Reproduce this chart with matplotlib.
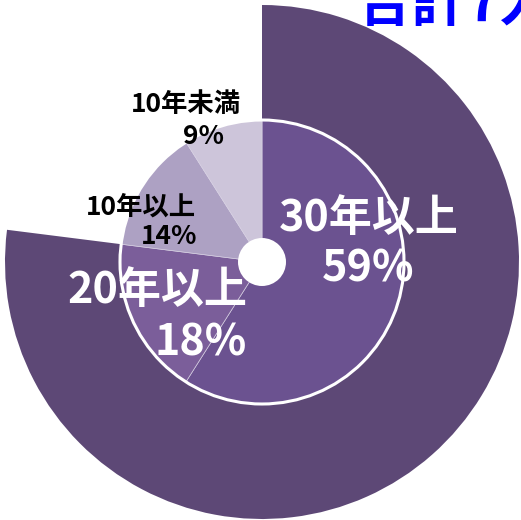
import matplotlib
matplotlib.use('Agg')
import matplotlib.pyplot as plt
from matplotlib.patches import Circle

plt.rcParams['font.family'] = ['Noto Sans CJK JP', 'DejaVu Sans']

# data
labels = ['30年以上', '20年以上', '10年以上', '10年未満']
shares = [59, 18, 14, 9]
colors = ['#6b5290', '#7b5e9a', '#ada1c3', '#cdc5da']
title = '合計7人'

H = 520
fig = plt.figure(figsize=(5.21, 5.20), dpi=100)
ax = fig.add_axes([0, 0, 1, 1])

cx, cy = 262, H - 262
r_in = 142
r_out = 257

# big outer wedge behind the two long-term groups
outer = [shares[0] + shares[1], sum(shares[2:])]
ax.pie(outer, radius=r_out, center=(cx, cy), startangle=90, counterclock=False,
       colors=['#5d4876', 'none'], wedgeprops=dict(linewidth=0), frame=True)

# inner pie
ax.pie(shares, radius=r_in, center=(cx, cy), startangle=90, counterclock=False,
       colors=colors, wedgeprops=dict(edgecolor='#d6cfe2', linewidth=0.5), frame=True)

ax.add_patch(Circle((cx, cy), r_in, fill=False, edgecolor='white', linewidth=2.2, zorder=5))
ax.add_patch(Circle((cx, cy), 24, facecolor='white', edgecolor='none', zorder=6))

ax.set_xlim(0, 521)
ax.set_ylim(0, H)
ax.set_aspect('equal')
ax.axis('off')

# labels (name line and percent line placed separately, like the excel labels)
big = dict(color='white', fontsize=31, fontweight='bold', ha='center', va='center', zorder=7)
small = dict(color='black', fontsize=19, fontweight='bold', ha='center', va='center', zorder=7)
ax.text(369, H - 218, labels[0], **big)
ax.text(368, H - 268, f'{shares[0]}%', **big)
ax.text(157, H - 290, labels[1], **big)
ax.text(201, H - 342, f'{shares[1]}%', **big)
ax.text(141, H - 207, labels[2], **small)
ax.text(169, H - 237, f'{shares[2]}%', **small)
ax.text(186, H - 104, labels[3], **small)
ax.text(204, H - 137, f'{shares[3]}%', **small)

# title is cut off by the top/right edge in the original too
ax.text(357, H - 21, title, color='#0000ff', fontsize=40, fontweight='bold',
        ha='left', va='baseline', zorder=7)

fig.savefig('out.png', dpi=100)
